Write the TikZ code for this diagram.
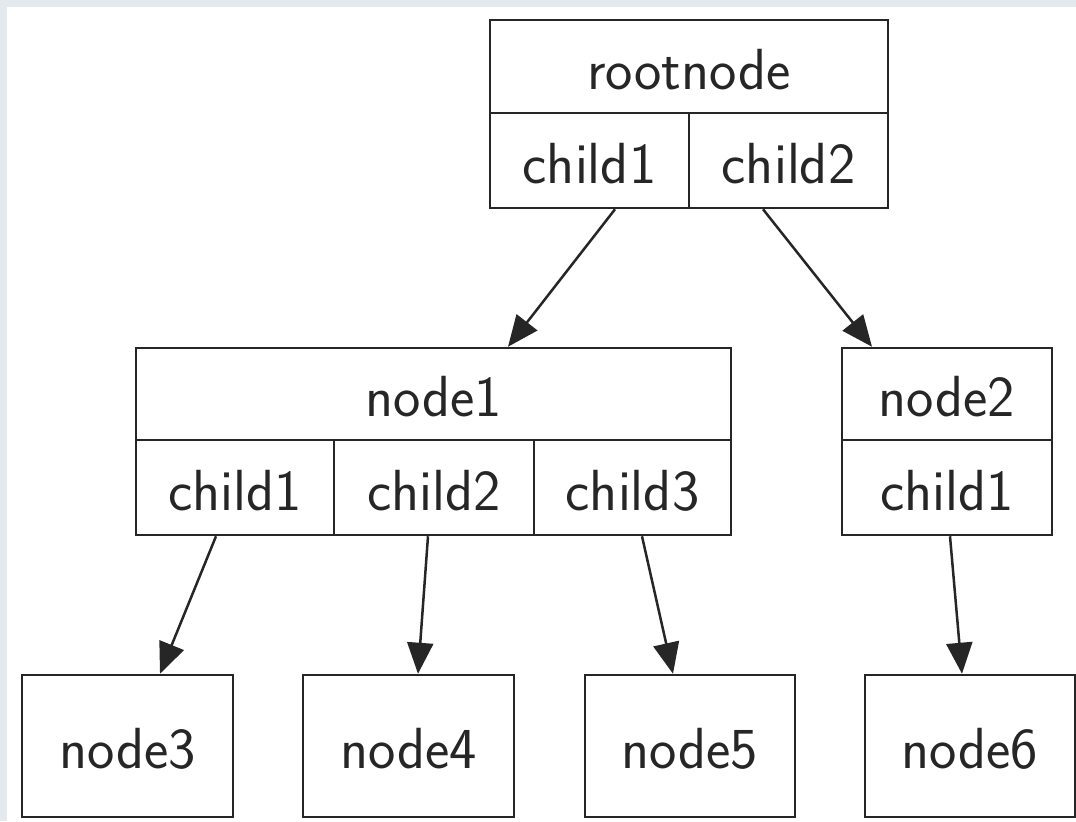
\documentclass[tikz,border=0pt]{standalone}
\usetikzlibrary{arrows.meta}
\definecolor{frame}{HTML}{E3E9ED}
\definecolor{ink}{HTML}{262626}
\begin{document}
\begin{tikzpicture}[x=0.5pt,y=-0.5pt,
  cell/.style={draw=ink,line width=1.25pt,inner sep=0pt,text=ink,
    font=\fontsize{29}{34}\sffamily,text height=22.5pt,text depth=0pt},
  link/.style={draw=ink,line width=1.25pt,-{Triangle[length=15.5pt,width=13pt]}}]
\useasboundingbox (0,0) rectangle (1076,821);
\fill[frame] (0,0) rectangle (1076,7);
\fill[frame] (0,0) rectangle (7,821);
% root
\node[cell,minimum width=199pt,minimum height=46.5pt] (rt) at (689,66.5) {rootnode};
\node[cell,minimum width=99.5pt,minimum height=47.5pt] (rc1) at (589.5,160.5) {child1};
\node[cell,minimum width=99.5pt,minimum height=47.5pt] (rc2) at (788.5,160.5) {child2};
% node1
\node[cell,minimum width=297.5pt,minimum height=46pt] (n1t) at (433.5,394) {node1};
\node[cell,minimum width=99pt,minimum height=47.5pt] (n1c1) at (235,487.5) {child1};
\node[cell,minimum width=100pt,minimum height=47.5pt] (n1c2) at (434,487.5) {child2};
\node[cell,minimum width=98.5pt,minimum height=47.5pt] (n1c3) at (632.5,487.5) {child3};
% node2
\node[cell,minimum width=105pt,minimum height=46pt] (n2t) at (947,394) {node2};
\node[cell,minimum width=105pt,minimum height=47.5pt] (n2c1) at (947,487.5) {child1};
% leaves
\node[cell,minimum width=105.5pt,minimum height=71pt] (n3) at (127.5,746) {node3};
\node[cell,minimum width=105.5pt,minimum height=71pt] (n4) at (408.5,746) {node4};
\node[cell,minimum width=105pt,minimum height=71pt] (n5) at (690,746) {node5};
\node[cell,minimum width=105pt,minimum height=71pt] (n6) at (970,746) {node6};
% connectors
\draw[link] ([xshift=12.75pt]rc1.south) -- ([xshift=37.25pt]n1t.north);
\draw[link] ([xshift=-12.75pt]rc2.south) -- ([xshift=-37.5pt]n2t.north);
\draw[link] ([xshift=-9.5pt]n1c1.south) -- ([xshift=16.25pt]n3.north);
\draw[link] ([xshift=-3pt]n1c2.south) -- ([xshift=4.75pt]n4.north);
\draw[link] ([xshift=4.75pt]n1c3.south) -- ([xshift=-8.5pt]n5.north);
\draw[link] ([xshift=1.5pt]n2c1.south) -- ([xshift=-4pt]n6.north);
\end{tikzpicture}
\end{document}
